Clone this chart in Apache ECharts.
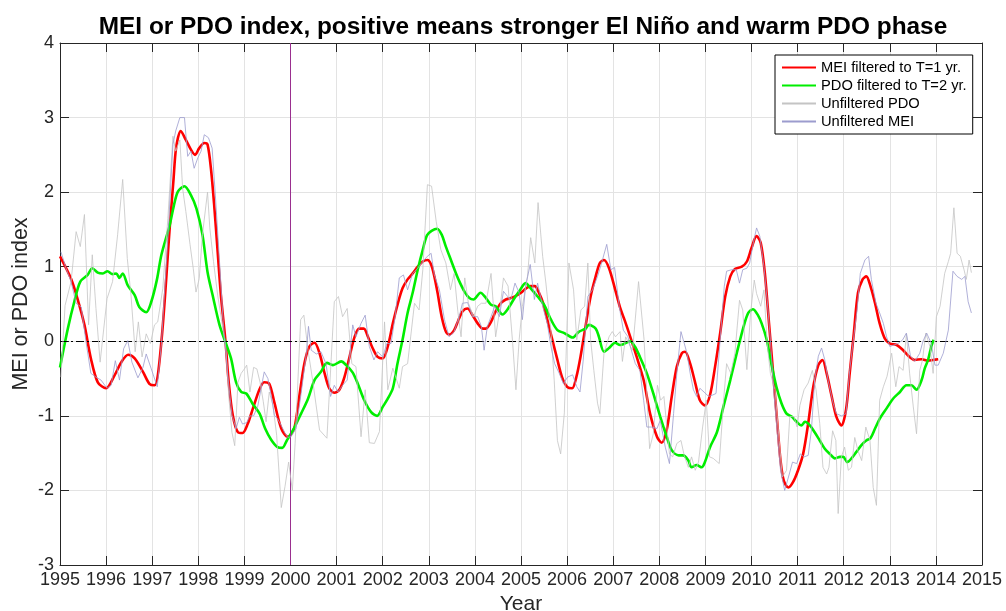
<!DOCTYPE html>
<html>
<head>
<meta charset="utf-8">
<script src="https://cdn.jsdelivr.net/npm/echarts@6/dist/echarts.min.js"></script>
<style>
html,body{margin:0;padding:0;background:#fff;}
#chart{width:1006px;height:611px;}
</style>
</head>
<body>
<div id="chart"></div>
<script>
// ---- data: [decimal year, index value] ----
const meiFiltered = [
[1995.00,1.14],[1995.24,0.84],[1995.38,0.57],[1995.53,0.22],[1995.67,-0.23],[1995.82,-0.55],[1996.00,-0.63],
[1996.18,-0.46],[1996.33,-0.28],[1996.48,-0.18],[1996.62,-0.23],[1996.80,-0.41],[1996.94,-0.57],[1997.05,-0.59],
[1997.20,0.00],[1997.38,1.52],[1997.46,2.15],[1997.52,2.60],[1997.62,2.82],[1997.73,2.70],[1997.84,2.57],[1997.93,2.50],
[1998.02,2.59],[1998.13,2.66],[1998.20,2.64],[1998.28,2.28],[1998.35,1.78],[1998.42,1.20],[1998.49,0.62],[1998.59,0.00],
[1998.66,-0.55],[1998.75,-1.00],[1998.86,-1.22],[1998.96,-1.23],[1999.07,-1.11],[1999.18,-0.91],[1999.33,-0.64],
[1999.43,-0.55],[1999.54,-0.57],[1999.65,-0.82],[1999.80,-1.17],[1999.94,-1.28],[2000.00,-1.26],[2000.09,-1.15],
[2000.20,-0.70],[2000.30,-0.30],[2000.41,-0.07],[2000.52,-0.02],[2000.63,-0.16],[2000.74,-0.43],[2000.84,-0.63],
[2000.95,-0.69],[2001.06,-0.65],[2001.17,-0.48],[2001.28,-0.21],[2001.39,0.06],[2001.49,0.17],[2001.59,0.17],
[2001.68,0.06],[2001.78,-0.09],[2001.89,-0.21],[2002.00,-0.23],[2002.11,-0.07],[2002.22,0.24],[2002.33,0.51],
[2002.43,0.71],[2002.54,0.83],[2002.65,0.91],[2002.76,1.00],[2002.87,1.07],[2002.97,1.09],[2003.05,1.03],
[2003.12,0.87],[2003.19,0.65],[2003.28,0.33],[2003.37,0.13],[2003.44,0.09],[2003.55,0.15],[2003.64,0.28],
[2003.73,0.40],[2003.84,0.44],[2003.95,0.35],[2004.06,0.24],[2004.17,0.17],[2004.24,0.17],[2004.35,0.26],
[2004.45,0.40],[2004.56,0.51],[2004.67,0.56],[2004.78,0.58],[2004.89,0.61],[2005.00,0.65],[2005.11,0.71],
[2005.21,0.74],[2005.30,0.74],[2005.39,0.65],[2005.48,0.51],[2005.57,0.29],[2005.68,0.02],[2005.79,-0.25],
[2005.89,-0.48],[2006.00,-0.61],[2006.11,-0.63],[2006.20,-0.48],[2006.29,-0.21],[2006.40,0.20],[2006.51,0.60],
[2006.62,0.87],[2006.71,1.05],[2006.80,1.09],[2006.91,0.98],[2007.04,0.70],[2007.15,0.45],[2007.25,0.28],
[2007.37,0.06],[2007.51,-0.21],[2007.66,-0.52],[2007.80,-0.97],[2007.95,-1.28],[2008.05,-1.36],[2008.16,-1.19],
[2008.27,-0.74],[2008.38,-0.34],[2008.49,-0.16],[2008.56,-0.14],[2008.67,-0.30],[2008.78,-0.56],[2008.88,-0.79],
[2008.99,-0.86],[2009.10,-0.72],[2009.21,-0.34],[2009.32,0.11],[2009.43,0.60],[2009.54,0.87],[2009.64,0.97],
[2009.79,1.00],[2009.90,1.07],[2010.00,1.25],[2010.11,1.41],[2010.20,1.32],[2010.29,0.91],[2010.38,0.24],
[2010.47,-0.43],[2010.56,-1.10],[2010.63,-1.60],[2010.70,-1.87],[2010.80,-1.96],[2010.90,-1.89],[2011.01,-1.73],
[2011.12,-1.51],[2011.23,-1.10],[2011.34,-0.61],[2011.45,-0.32],[2011.54,-0.25],[2011.63,-0.43],[2011.74,-0.74],
[2011.84,-1.01],[2011.95,-1.13],[2012.05,-0.92],[2012.13,-0.43],[2012.22,0.11],[2012.31,0.65],[2012.41,0.83],
[2012.49,0.87],[2012.58,0.74],[2012.68,0.51],[2012.78,0.24],[2012.89,0.04],[2013.00,-0.03],[2013.15,-0.05],
[2013.29,-0.12],[2013.43,-0.21],[2013.54,-0.25],[2013.69,-0.24],[2013.83,-0.26],[2013.94,-0.25],[2014.05,-0.24]
];
const pdoFiltered = [
[1995.00,-0.35],[1995.17,0.17],[1995.31,0.53],[1995.44,0.80],[1995.60,0.89],[1995.70,0.98],[1995.82,0.92],
[1995.93,0.91],[1996.03,0.94],[1996.14,0.90],[1996.22,0.91],[1996.29,0.85],[1996.36,0.91],[1996.47,0.75],
[1996.62,0.62],[1996.72,0.46],[1996.87,0.39],[1996.98,0.53],[1997.10,0.82],[1997.20,1.16],[1997.38,1.56],
[1997.47,1.82],[1997.56,2.01],[1997.70,2.08],[1997.84,1.96],[1997.96,1.78],[1998.09,1.43],[1998.20,0.93],
[1998.31,0.62],[1998.46,0.22],[1998.60,-0.03],[1998.71,-0.23],[1998.82,-0.55],[1998.93,-0.68],[1999.04,-0.70],
[1999.18,-0.84],[1999.33,-0.97],[1999.45,-1.17],[1999.58,-1.32],[1999.72,-1.42],[1999.82,-1.43],[1999.92,-1.33],
[2000.00,-1.25],[2000.09,-1.15],[2000.23,-0.97],[2000.38,-0.77],[2000.52,-0.52],[2000.66,-0.41],[2000.79,-0.29],
[2000.92,-0.32],[2001.10,-0.27],[2001.21,-0.32],[2001.35,-0.42],[2001.46,-0.57],[2001.60,-0.79],[2001.75,-0.95],
[2001.88,-1.00],[2002.00,-0.88],[2002.11,-0.77],[2002.22,-0.63],[2002.32,-0.30],[2002.43,0.02],[2002.54,0.38],
[2002.65,0.65],[2002.76,0.96],[2002.87,1.23],[2002.96,1.42],[2003.06,1.48],[2003.18,1.51],[2003.28,1.43],
[2003.37,1.27],[2003.48,1.09],[2003.59,0.91],[2003.68,0.78],[2003.78,0.66],[2003.88,0.58],[2003.97,0.56],
[2004.12,0.65],[2004.24,0.58],[2004.35,0.49],[2004.45,0.47],[2004.60,0.36],[2004.71,0.43],[2004.84,0.56],
[2004.96,0.67],[2005.10,0.78],[2005.21,0.71],[2005.36,0.60],[2005.50,0.49],[2005.65,0.29],[2005.79,0.15],
[2005.94,0.11],[2006.12,0.05],[2006.26,0.13],[2006.40,0.17],[2006.47,0.22],[2006.62,0.17],[2006.69,0.06],
[2006.80,-0.14],[2006.91,-0.09],[2007.04,-0.02],[2007.15,-0.05],[2007.22,-0.04],[2007.37,0.00],[2007.47,-0.07],
[2007.58,-0.21],[2007.73,-0.43],[2007.87,-0.70],[2008.02,-1.01],[2008.16,-1.28],[2008.27,-1.46],[2008.42,-1.53],
[2008.52,-1.53],[2008.63,-1.60],[2008.70,-1.69],[2008.81,-1.66],[2008.92,-1.69],[2008.99,-1.62],[2009.10,-1.42],
[2009.25,-1.22],[2009.39,-0.88],[2009.54,-0.52],[2009.68,-0.16],[2009.83,0.20],[2009.93,0.38],[2010.03,0.43],
[2010.13,0.36],[2010.22,0.24],[2010.33,0.02],[2010.43,-0.30],[2010.54,-0.61],[2010.65,-0.83],[2010.76,-0.97],
[2010.87,-1.01],[2010.98,-1.08],[2011.08,-1.13],[2011.16,-1.08],[2011.27,-1.13],[2011.37,-1.22],[2011.48,-1.33],
[2011.59,-1.44],[2011.70,-1.51],[2011.81,-1.57],[2011.92,-1.55],[2011.99,-1.55],[2012.08,-1.62],[2012.17,-1.57],
[2012.28,-1.48],[2012.39,-1.39],[2012.49,-1.33],[2012.58,-1.30],[2012.68,-1.17],[2012.78,-1.04],[2012.93,-0.90],
[2013.07,-0.77],[2013.22,-0.68],[2013.36,-0.59],[2013.47,-0.59],[2013.58,-0.65],[2013.69,-0.52],[2013.76,-0.36],
[2013.83,-0.25],[2013.90,-0.07],[2013.95,0.02]
];
const pdoRaw = [
[1995.02,-0.48],[1995.11,0.48],[1995.24,0.80],[1995.35,1.47],[1995.44,1.27],[1995.53,1.70],[1995.62,0.22],
[1995.70,1.16],[1995.78,0.44],[1995.87,-0.28],[1996.02,0.57],[1996.14,0.80],[1996.25,1.43],[1996.36,2.17],
[1996.46,1.11],[1996.54,0.62],[1996.63,-0.14],[1996.70,0.26],[1996.78,-0.21],[1996.87,0.10],[1996.96,-0.03],
[1997.05,0.22],[1997.12,0.26],[1997.23,0.71],[1997.34,1.65],[1997.45,2.75],[1997.51,2.55],[1997.60,2.70],
[1997.66,2.05],[1997.73,1.74],[1997.82,1.30],[1997.89,0.98],[1997.95,0.66],[1998.02,0.84],[1998.09,1.43],
[1998.20,2.00],[1998.25,1.52],[1998.33,1.07],[1998.42,0.62],[1998.51,0.26],[1998.60,-0.10],[1998.66,-0.73],
[1998.73,-1.22],[1998.79,-1.40],[1998.86,-0.55],[1998.93,-0.43],[1999.00,-0.37],[1999.05,-0.32],[1999.12,-0.68],
[1999.20,-0.35],[1999.27,-0.37],[1999.34,-0.55],[1999.41,-0.81],[1999.47,-1.08],[1999.54,-0.68],[1999.62,-0.86],
[1999.70,-1.26],[1999.80,-2.23],[1999.88,-1.95],[1999.96,-1.62],[2000.04,-2.00],[2000.10,-1.37],[2000.22,0.29],
[2000.29,0.35],[2000.38,-0.12],[2000.48,-0.52],[2000.63,-1.19],[2000.79,-1.30],[2000.95,0.53],[2001.04,0.60],
[2001.13,0.33],[2001.23,0.44],[2001.33,-0.30],[2001.42,-0.34],[2001.53,-1.28],[2001.62,-0.65],[2001.71,-1.36],
[2001.82,-1.37],[2001.93,-1.21],[2002.04,0.26],[2002.11,-0.65],[2002.22,-0.36],[2002.36,-0.63],[2002.43,-0.34],
[2002.54,-0.30],[2002.69,0.51],[2002.79,0.42],[2002.87,0.96],[2002.97,2.10],[2003.06,2.08],[2003.16,1.61],
[2003.26,1.23],[2003.37,1.05],[2003.47,0.69],[2003.55,0.91],[2003.63,0.40],[2003.70,0.06],[2003.78,0.85],
[2003.86,0.51],[2003.97,0.33],[2004.06,0.47],[2004.14,0.51],[2004.24,0.51],[2004.35,0.91],[2004.45,0.06],
[2004.55,0.47],[2004.62,0.85],[2004.72,0.74],[2004.82,-0.03],[2004.89,-0.65],[2004.96,0.02],[2005.03,0.47],
[2005.14,0.87],[2005.21,1.39],[2005.30,1.05],[2005.37,1.86],[2005.47,1.14],[2005.54,0.78],[2005.65,0.13],
[2005.72,-0.52],[2005.79,-1.33],[2005.86,-1.51],[2005.94,-0.96],[2006.04,1.05],[2006.14,0.69],[2006.21,0.02],
[2006.30,0.42],[2006.38,0.47],[2006.45,1.05],[2006.51,0.02],[2006.58,-0.39],[2006.66,-0.83],[2006.71,-0.97],
[2006.80,-0.16],[2006.91,0.06],[2006.98,0.13],[2007.05,0.06],[2007.15,0.13],[2007.20,-0.27],[2007.27,0.06],
[2007.34,-0.03],[2007.42,-0.12],[2007.55,0.80],[2007.67,0.02],[2007.79,-1.44],[2007.87,-1.24],[2007.96,-0.59],
[2008.03,-0.79],[2008.10,-0.74],[2008.22,-1.51],[2008.29,-1.55],[2008.38,-1.37],[2008.47,-1.33],[2008.54,-1.53],
[2008.63,-1.69],[2008.70,-1.55],[2008.78,-1.73],[2008.85,-1.62],[2008.94,-1.15],[2009.02,-0.79],[2009.09,-1.55],
[2009.17,-1.57],[2009.30,-1.64],[2009.39,-0.83],[2009.46,-0.30],[2009.55,-0.43],[2009.64,-0.16],[2009.74,0.55],
[2009.81,0.42],[2009.90,-0.38],[2009.98,0.38],[2010.06,0.82],[2010.11,0.64],[2010.20,0.47],[2010.27,0.69],
[2010.34,-0.03],[2010.41,-0.43],[2010.51,-0.65],[2010.60,-1.33],[2010.67,-1.82],[2010.76,-1.73],[2010.83,-1.01],
[2010.92,-1.01],[2010.99,-1.15],[2011.05,-0.86],[2011.14,-0.65],[2011.23,-0.56],[2011.32,-0.39],[2011.40,-0.65],
[2011.48,-1.10],[2011.55,-1.69],[2011.63,-1.78],[2011.68,-1.69],[2011.76,-1.20],[2011.83,-1.33],[2011.88,-2.31],
[2011.95,-1.55],[2012.02,-1.42],[2012.10,-1.73],[2012.17,-1.69],[2012.24,-1.29],[2012.31,-1.47],[2012.39,-1.60],
[2012.48,-1.15],[2012.57,-1.33],[2012.64,-1.96],[2012.71,-2.20],[2012.78,-0.79],[2012.86,-0.61],[2012.94,-0.47],
[2013.04,-0.16],[2013.13,-0.61],[2013.20,-0.34],[2013.29,-0.39],[2013.36,0.10],[2013.43,-0.43],[2013.51,-0.88],
[2013.58,-1.24],[2013.65,-0.39],[2013.71,-0.25],[2013.78,0.11],[2013.87,-0.07],[2013.94,-0.43],[2014.01,0.33],
[2014.09,0.47],[2014.19,0.91],[2014.27,1.07],[2014.32,1.18],[2014.39,1.79],[2014.46,1.18],[2014.53,1.14],
[2014.61,0.96],[2014.66,0.83],[2014.72,1.09],[2014.77,0.92]
];
const meiRaw = [
[1995.02,1.20],[1995.13,0.98],[1995.24,0.80],[1995.35,0.51],[1995.46,0.46],[1995.57,-0.03],[1995.67,-0.43],
[1995.78,-0.48],[1995.89,-0.52],[1996.02,-0.63],[1996.11,-0.59],[1996.20,-0.26],[1996.29,-0.52],[1996.38,-0.10],
[1996.47,0.01],[1996.56,-0.28],[1996.69,-0.49],[1996.80,-0.35],[1996.87,-0.17],[1996.98,-0.37],[1997.11,-0.61],
[1997.20,-0.03],[1997.34,1.38],[1997.45,2.64],[1997.51,2.82],[1997.60,3.00],[1997.70,3.00],[1997.77,2.48],
[1997.84,2.55],[1997.91,2.32],[1997.99,2.46],[1998.06,2.55],[1998.13,2.77],[1998.22,2.73],[1998.30,2.59],
[1998.37,1.96],[1998.46,1.07],[1998.54,0.26],[1998.64,-0.46],[1998.73,-0.99],[1998.82,-1.17],[1998.89,-1.02],
[1998.96,-1.11],[1999.05,-1.09],[1999.12,-1.00],[1999.20,-1.00],[1999.29,-0.87],[1999.36,-0.64],[1999.43,-0.41],
[1999.51,-0.50],[1999.58,-0.72],[1999.65,-0.99],[1999.72,-1.04],[1999.80,-1.13],[1999.87,-1.22],[1999.94,-1.29],
[2000.01,-1.28],[2000.12,-1.17],[2000.23,-0.70],[2000.34,-0.18],[2000.39,0.20],[2000.45,-0.12],[2000.56,-0.17],
[2000.66,-0.14],[2000.77,-0.30],[2000.87,-0.74],[2000.95,-0.59],[2001.03,-0.68],[2001.13,-0.59],[2001.23,-0.52],
[2001.35,0.22],[2001.42,0.06],[2001.53,0.24],[2001.62,0.35],[2001.71,-0.07],[2001.81,-0.25],[2001.89,-0.14],
[2002.00,-0.21],[2002.09,-0.03],[2002.18,-0.03],[2002.27,0.33],[2002.36,0.85],[2002.45,0.89],[2002.54,0.69],
[2002.65,0.91],[2002.76,0.98],[2002.87,1.07],[2002.97,1.14],[2003.05,1.18],[2003.12,0.89],[2003.23,0.69],
[2003.34,0.29],[2003.44,0.06],[2003.55,0.13],[2003.66,0.33],[2003.73,0.51],[2003.84,0.52],[2003.95,0.33],
[2004.06,0.33],[2004.14,0.20],[2004.20,-0.12],[2004.27,0.20],[2004.35,0.33],[2004.43,0.47],[2004.53,0.33],
[2004.62,0.67],[2004.71,0.60],[2004.78,0.56],[2004.87,0.78],[2004.96,0.65],[2005.03,0.29],[2005.10,0.74],
[2005.20,1.03],[2005.29,0.56],[2005.36,0.78],[2005.47,0.47],[2005.57,0.24],[2005.65,-0.07],[2005.73,-0.30],
[2005.83,-0.43],[2005.92,-0.57],[2006.01,-0.48],[2006.12,-0.45],[2006.21,-0.61],[2006.28,-0.68],[2006.35,-0.25],
[2006.45,0.60],[2006.55,0.69],[2006.66,0.87],[2006.74,1.03],[2006.86,1.30],[2006.95,0.96],[2007.03,0.99],
[2007.13,0.47],[2007.22,0.15],[2007.32,0.06],[2007.37,-0.07],[2007.48,-0.30],[2007.58,-0.39],[2007.66,-0.79],
[2007.73,-1.15],[2007.84,-1.15],[2007.95,-1.17],[2008.02,-1.06],[2008.13,-1.42],[2008.22,-1.64],[2008.31,-0.97],
[2008.38,-0.43],[2008.47,0.13],[2008.52,0.02],[2008.60,-0.16],[2008.67,-0.43],[2008.74,-0.65],[2008.81,-0.74],
[2008.88,-0.63],[2008.97,-0.68],[2009.07,-0.74],[2009.16,-0.72],[2009.23,-0.70],[2009.32,0.02],[2009.41,0.74],
[2009.46,0.94],[2009.57,0.96],[2009.67,0.96],[2009.74,0.78],[2009.81,0.96],[2009.90,0.98],[2009.96,1.05],
[2010.04,1.32],[2010.11,1.52],[2010.18,1.41],[2010.27,1.00],[2010.34,0.55],[2010.41,0.02],[2010.48,-0.65],
[2010.56,-1.24],[2010.63,-1.73],[2010.72,-2.00],[2010.82,-1.78],[2010.89,-1.62],[2010.98,-1.64],[2011.06,-1.51],
[2011.14,-1.55],[2011.23,-1.53],[2011.30,-1.19],[2011.37,-0.52],[2011.45,-0.20],[2011.52,-0.09],[2011.59,-0.25],
[2011.66,-0.52],[2011.77,-0.83],[2011.84,-0.97],[2011.95,-1.00],[2012.05,-0.97],[2012.13,-0.39],[2012.21,0.02],
[2012.29,0.42],[2012.36,0.91],[2012.46,1.09],[2012.54,1.14],[2012.60,0.83],[2012.70,0.51],[2012.78,0.38],
[2012.86,0.24],[2012.93,0.06],[2013.00,-0.07],[2013.09,-0.05],[2013.18,-0.03],[2013.28,0.02],[2013.36,0.11],
[2013.45,-0.20],[2013.54,-0.27],[2013.65,-0.16],[2013.72,0.00],[2013.80,0.11],[2013.90,-0.03],[2013.98,-0.32],
[2014.05,-0.32],[2014.16,-0.16],[2014.27,0.15],[2014.37,0.94],[2014.46,0.87],[2014.56,0.83],[2014.63,0.87],
[2014.70,0.53],[2014.77,0.38]
];
const seriesNames = ['MEI filtered to T=1 yr.','PDO filtered to T=2 yr.','Unfiltered PDO','Unfiltered MEI'];
const xRange = [1995, 2015];
const yRange = [-3, 4];
const refYear = 2000;
const refLevel = 0;

const FONT = 'Liberation Sans, Arial, Helvetica, sans-serif';
const AXC = '#262626';
const chart = echarts.init(document.getElementById('chart'), null, {renderer:'canvas'});

const axisCommon = {
  axisLine:{show:true,onZero:false,lineStyle:{color:AXC,width:1}},
  axisTick:{show:true,inside:true,length:9,lineStyle:{color:AXC,width:1}}
};
chart.setOption({
  animation:false,
  backgroundColor:'#fff',
  title:{text:'MEI or PDO index, positive means stronger El Niño and warm PDO phase',
    left:518, top:10, textAlign:'center',
    textStyle:{fontFamily:FONT,fontSize:24.4,fontWeight:'bold',color:'#000'}},
  grid:{left:60,right:24,top:43,bottom:46,containLabel:false,outerBoundsMode:'none'},
  legend:{
    data:seriesNames, orient:'vertical', left:775, top:55,
    backgroundColor:'#fff', borderColor:'#000', borderWidth:1,
    padding:[5,6,5,6], itemGap:3, itemWidth:34, itemHeight:15,
    itemStyle:{opacity:0},
    textStyle:{fontFamily:FONT,fontSize:14.7,color:'#000'}
  },
  xAxis:[
    Object.assign({type:'value',min:xRange[0],max:xRange[1],interval:1,
      name:'Year',nameLocation:'middle',nameGap:25,
      nameTextStyle:{fontFamily:FONT,fontSize:21,color:AXC},
      axisLabel:{fontFamily:FONT,fontSize:18,color:AXC,margin:6,formatter:v=>String(v)},
      splitLine:{show:true,lineStyle:{color:'#e3e3e3',width:1}}},axisCommon),
    Object.assign({type:'value',min:xRange[0],max:xRange[1],interval:1,position:'top',
      axisLabel:{show:false},splitLine:{show:false}},axisCommon)
  ],
  yAxis:[
    Object.assign({type:'value',min:yRange[0],max:yRange[1],interval:1,
      name:'MEI or PDO index',nameLocation:'middle',nameGap:28,nameMoveOverlap:false,
      nameTextStyle:{fontFamily:FONT,fontSize:21.5,color:AXC},
      axisLabel:{fontFamily:FONT,fontSize:18,color:AXC,margin:6},
      splitLine:{show:true,lineStyle:{color:'#e3e3e3',width:1}}},axisCommon),
    Object.assign({type:'value',min:yRange[0],max:yRange[1],interval:1,position:'right',
      axisLabel:{show:false},splitLine:{show:false}},axisCommon)
  ],
  series:[
    {name:'refs',type:'line',data:[],z:1,silent:true,
      markLine:{symbol:'none',silent:true,label:{show:false},animation:false,
        data:[
          {xAxis:refYear,lineStyle:{color:'#9a2f8f',width:1,type:'solid'}},
          {yAxis:refLevel,lineStyle:{color:'#000',width:1,type:[8,3,2,3]}}
        ]}},
    {name:seriesNames[0],type:'line',data:meiFiltered,showSymbol:false,symbol:'none',smooth:0.3,z:3,
      lineStyle:{color:'#ff0000',width:2.6},itemStyle:{color:'#ff0000'}},
    {name:seriesNames[1],type:'line',data:pdoFiltered,showSymbol:false,symbol:'none',smooth:0.3,z:4,
      lineStyle:{color:'#00ee00',width:2.6},itemStyle:{color:'#00ee00'}},
    {name:seriesNames[2],type:'line',data:pdoRaw,showSymbol:false,symbol:'none',z:5,
      lineStyle:{color:'#c4c4c4',width:0.8},itemStyle:{color:'#c4c4c4'}},
    {name:seriesNames[3],type:'line',data:meiRaw,showSymbol:false,symbol:'none',z:6,
      lineStyle:{color:'#9c9cce',width:0.8},itemStyle:{color:'#9c9cce'}}
  ]
});
</script>
</body>
</html>
